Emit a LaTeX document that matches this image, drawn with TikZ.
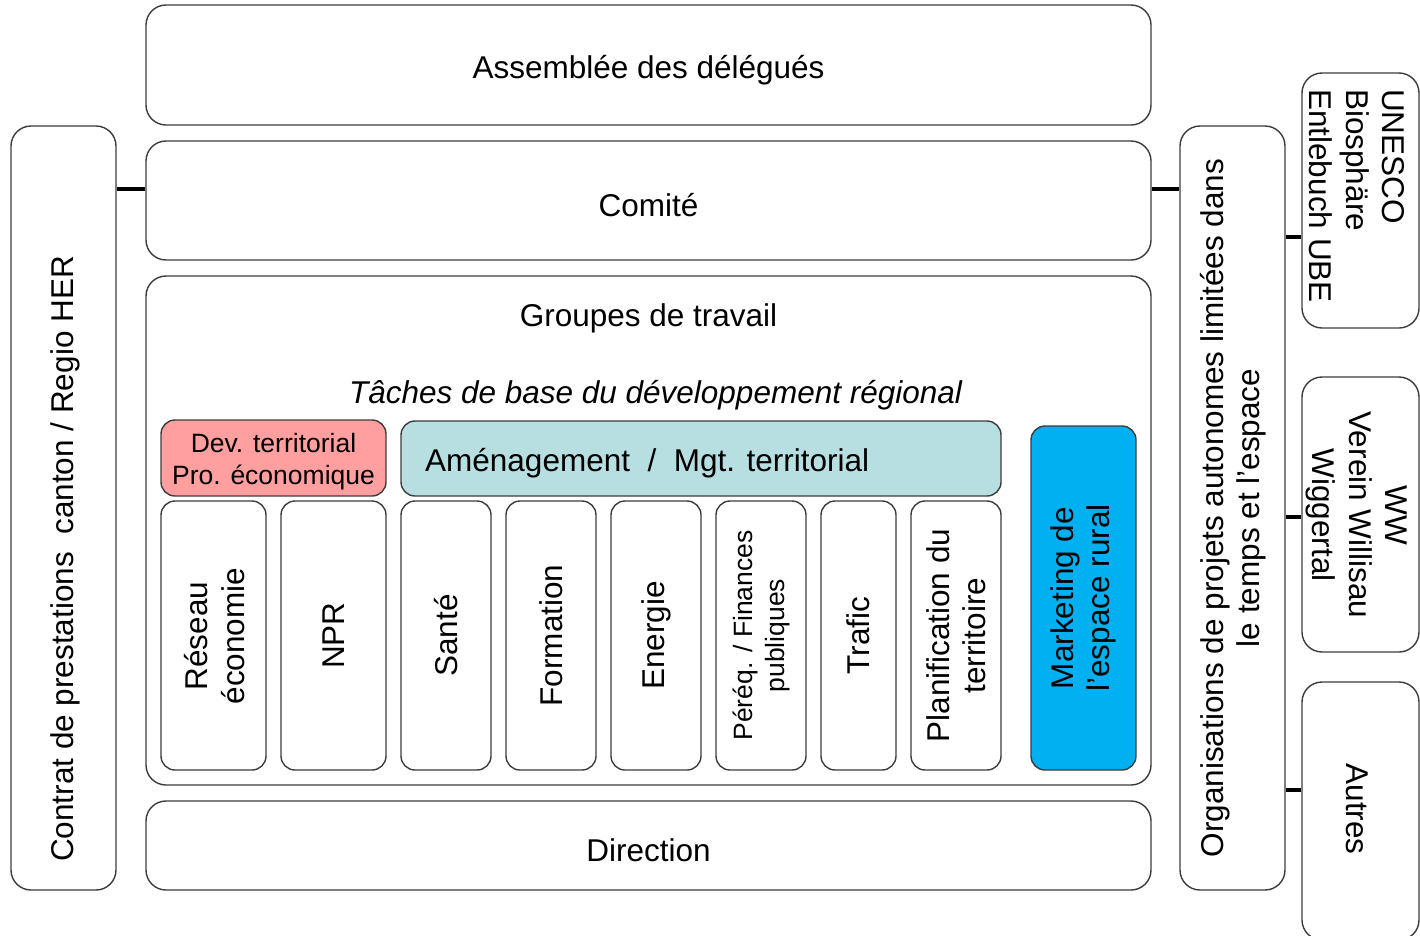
\documentclass[tikz,border=0pt]{standalone}
\usepackage{fontspec}
\setmainfont{Liberation Sans}
\newcommand{\mainsz}{\fontsize{31.5}{36.5}\selectfont}
\newcommand{\smallsz}{\fontsize{26.5}{32}\selectfont}
\definecolor{pinkfill}{RGB}{255,159,159}
\definecolor{tealfill}{RGB}{183,222,224}
\definecolor{bluefill}{RGB}{0,176,240}
\definecolor{edgegray}{RGB}{60,60,60}
\tikzset{
  box/.style={draw=edgegray, line width=1.4pt, rounded corners=20pt, inner sep=0pt, font=\mainsz, align=center},
  sbox/.style={box, rounded corners=14pt, minimum height=269},
  stub/.style={line width=4pt, black},
  txt/.style={inner sep=0pt, align=center, font=\mainsz},
}
\begin{document}
\begin{tikzpicture}[x=1pt,y=-1pt]
\useasboundingbox (0,0) rectangle (1420,935);
% main column
\node[box, minimum width=1005, minimum height=120] (assemblee) at (648.5,65) {};
\node[txt] (assemblee-t) at (648.5,70) {Assemblée des délégués};
\node[box, minimum width=1005, minimum height=119] (comite) at (648.5,200.5) {};
\node[txt] (comite-t) at (648.5,205) {Comité};
\node[box, minimum width=1005, minimum height=509] (groupes) at (648.5,530.5) {};
\node[txt] (groupes-t) at (648.5,318) {Groupes de travail};
\node[txt, font=\mainsz\itshape] (taches) at (655.5,395) {Tâches de base du développement régional};
\node[box, minimum width=1005, minimum height=89] (direction) at (648.5,845.5) {};
\node[txt] (direction-t) at (648.5,850) {Direction};
% side boxes
\node[box, minimum width=105, minimum height=764] (contrat) at (63.5,508) {};
\node[txt, rotate=90] (contrat-t) at (65,559) {Contrat de prestations~ canton / Regio HER};
\node[box, minimum width=105, minimum height=764] (orgs) at (1232.5,508) {};
\node[txt, rotate=90] (orgs-t) at (1233,508) {Organisations de projets autonomes limitées dans\\le temps et l'espace};
\node[box, minimum width=117, minimum height=255] (unesco) at (1360.5,200.5) {};
\node[txt, rotate=-90, align=left, anchor=west] (unesco-t) at (1357,89) {UNESCO\\Biosphäre\\Entlebuch UBE};
\node[box, minimum width=117, minimum height=275] (ww) at (1360.5,514.5) {};
\node[txt, rotate=-90] (ww-t) at (1357,515) {WW\\Verein Willisau\\Wiggertal};
\node[box, minimum width=117, minimum height=258] (autres) at (1360.5,811) {};
\node[txt, rotate=-90] (autres-t) at (1357,809) {Autres};
% connectors
\draw[stub] (contrat.east |- 0,189) -- (comite.west |- 0,189);
\draw[stub] (comite.east |- 0,189) -- (orgs.west |- 0,189);
\draw[stub] (orgs.east |- 0,237) -- (unesco.west |- 0,237);
\draw[stub] (orgs.east |- 0,517) -- (ww.west |- 0,517);
\draw[stub] (orgs.east |- 0,790) -- (autres.west |- 0,790);
% inner top boxes
\node[box, rounded corners=14pt, fill=pinkfill, minimum width=225, minimum height=76] (dev) at (273.5,458) {};
\node[txt, font=\smallsz] (dev-t) at (273.5,462) {Dev. territorial\\Pro. économique};
\node[box, rounded corners=14pt, fill=tealfill, minimum width=600, minimum height=75] (amen) at (701,458.5) {};
\node[txt, anchor=west] (amen-t) at (425,463) {Aménagement~ /~ Mgt. territorial};
\node[box, rounded corners=14pt, fill=bluefill, minimum width=105, minimum height=344] (marketing) at (1083.5,598) {};
\node[txt, rotate=90] (marketing-t) at (marketing) {Marketing de\\l'espace rural};
% small vertical boxes
\node[sbox, minimum width=105] (reseau) at (213.5,635.5) {};
\node[txt, rotate=90] (reseau-t) at (214.5,636) {Réseau\\économie};
\node[sbox, minimum width=105] (npr) at (333.5,635.5) {};
\node[txt, rotate=90] (npr-t) at (npr) {NPR};
\node[sbox, minimum width=90] (sante) at (446,635.5) {};
\node[txt, rotate=90] (sante-t) at (sante) {Santé};
\node[sbox, minimum width=90] (formation) at (551,635.5) {};
\node[txt, rotate=90] (formation-t) at (formation) {Formation};
\node[sbox, minimum width=90] (energie) at (656,635.5) {};
\node[txt, rotate=90] (energie-t) at (energie) {Energie};
\node[sbox, minimum width=90] (pereq) at (761,635.5) {};
\node[txt, rotate=90, font=\smallsz] (pereq-t) at (pereq) {Péréq. / Finances\\publiques};
\node[sbox, minimum width=75] (trafic) at (858.5,635.5) {};
\node[txt, rotate=90] (trafic-t) at (trafic) {Trafic};
\node[sbox, minimum width=90] (planif) at (956,635.5) {};
\node[txt, rotate=90] (planif-t) at (planif) {Planification du\\territoire};
\end{tikzpicture}
\end{document}
